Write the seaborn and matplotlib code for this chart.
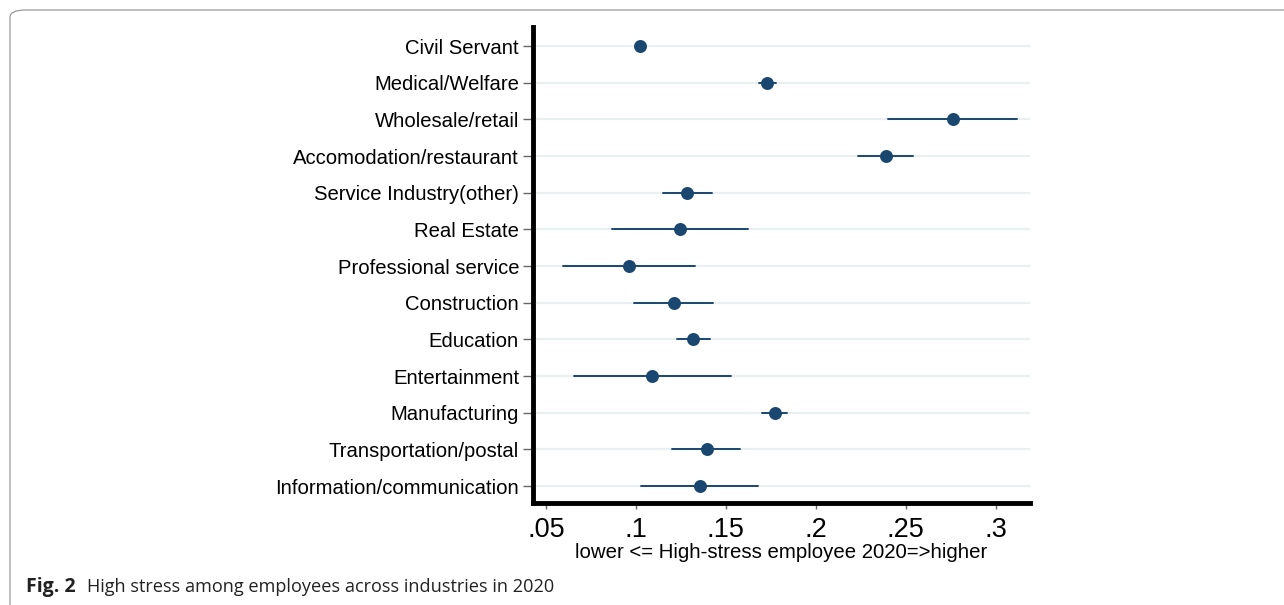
import pandas as pd
import matplotlib.pyplot as plt
import seaborn as sns
from matplotlib.patches import FancyBboxPatch

industries = ['Civil Servant', 'Medical/Welfare', 'Wholesale/retail', 'Accomodation/restaurant',
              'Service Industry(other)', 'Real Estate', 'Professional service', 'Construction',
              'Education', 'Entertainment', 'Manufacturing', 'Transportation/postal',
              'Information/communication']
estimate = [0.102, 0.173, 0.276, 0.239, 0.1285, 0.1246, 0.0961, 0.1211, 0.1319, 0.109, 0.1772, 0.1393, 0.1354]
ci_low = [0.100, 0.1685, 0.240, 0.2235, 0.115, 0.0868, 0.0596, 0.099, 0.123, 0.0654, 0.170, 0.120, 0.1026]
ci_high = [0.104, 0.178, 0.312, 0.254, 0.142, 0.1624, 0.133, 0.143, 0.141, 0.1526, 0.184, 0.158, 0.168]
xticks = [0.05, 0.1, 0.15, 0.2, 0.25, 0.3]
xtick_labels = ['.05', '.1', '.15', '.2', '.25', '.3']

# long form: median of (low, est, high) is the estimate, full range is the CI
rows = []
for name, lo, est, hi in zip(industries, ci_low, estimate, ci_high):
    for v in (lo, est, hi):
        rows.append({'industry': name, 'value': v})
df = pd.DataFrame(rows)

sns.set_style("white")
plt.rcParams['font.family'] = ['Liberation Sans', 'DejaVu Sans']

navy = '#1a476f'
fig = plt.figure(figsize=(12.84, 6.05), dpi=100)
ax = fig.add_axes([533 / 1284, 1 - 503 / 605, (1030 - 533) / 1284, (503 - 27) / 605])

for i in range(len(industries)):
    ax.axhline(i, color='#eaf0f2', lw=1.6, zorder=0)

sns.pointplot(data=df, x='value', y='industry', order=industries, estimator='median',
              errorbar=('pi', 100), color=navy, linestyle='none', markersize=7.3,
              err_kws={'linewidth': 1.4}, ax=ax)

ax.set_xlim(0.0428, 0.319)
ax.set_ylim(12.46, -0.52)
ax.set_xticks(xticks)
ax.set_xticklabels(xtick_labels, fontsize=19.5, color='black')
ax.set_yticks(range(len(industries)))
ax.set_yticklabels(industries, fontsize=14.6, color='black')
ax.tick_params(axis='y', length=7, width=1, color='#666666', pad=3, left=True)
ax.tick_params(axis='x', length=4, width=1, color='#666666', pad=6, bottom=True)
ax.set_xlabel('lower <= High-stress employee 2020=>higher', fontsize=14.7, color='black')
ax.xaxis.set_label_coords(0.5, -(543 - 503) / 476)
ax.set_ylabel('')

for side in ['top', 'right']:
    ax.spines[side].set_visible(False)
for side in ['left', 'bottom']:
    ax.spines[side].set_linewidth(3.5)
    ax.spines[side].set_color('black')

border = FancyBboxPatch((10 / 1284, -0.05), 1.2, 1 - 10 / 605 + 0.05,
                        boxstyle='round,pad=0,rounding_size=0.012',
                        transform=fig.transFigure, fill=False, ec='#9a9a9a', lw=0.9)
fig.patches.append(border)

fig.text(26 / 1284, 1 - 587 / 605, 'Fig. 2', fontsize=14, fontweight='bold',
         family=['Open Sans', 'DejaVu Sans'], va='center', color='#222222')
fig.text(87 / 1284, 1 - 587 / 605, 'High stress among employees across industries in 2020',
         fontsize=13.05, family=['Open Sans', 'DejaVu Sans'], va='center', color='#222222')

fig.savefig('out.png', dpi=100)
